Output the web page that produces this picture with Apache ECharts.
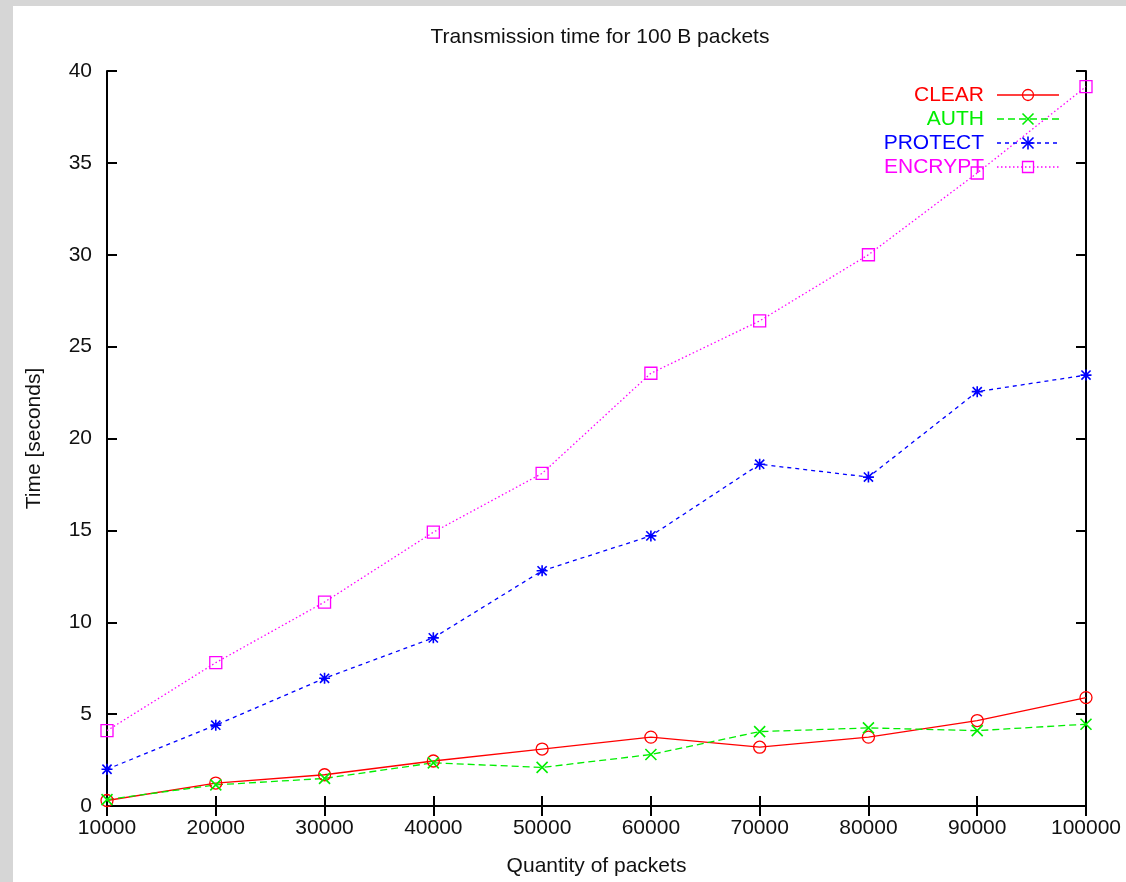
<!DOCTYPE html>
<html>
<head>
<meta charset="utf-8">
<script src="https://cdn.jsdelivr.net/npm/echarts@6/dist/echarts.min.js"></script>
<style>
html,body{margin:0;padding:0;width:1126px;height:882px;overflow:hidden;background:#d6d6d6;}
#paper{position:absolute;left:13px;top:6px;right:0;bottom:0;background:#ffffff;}
#chart{position:absolute;left:0;top:0;width:1126px;height:882px;}
</style>
</head>
<body>
<div id="paper"></div>
<div id="chart"></div>
<script>
// ---- data ----
const quantities = [10000, 20000, 30000, 40000, 50000, 60000, 70000, 80000, 90000, 100000];
const clearTimes   = [0.3, 1.25, 1.7, 2.45, 3.1, 3.75, 3.2, 3.75, 4.65, 5.9];
const authTimes    = [0.35, 1.15, 1.5, 2.35, 2.1, 2.8, 4.05, 4.25, 4.1, 4.45];
const protectTimes = [2.0, 4.4, 6.95, 9.15, 12.8, 14.7, 18.6, 17.9, 22.55, 23.45];
const encryptTimes = [4.1, 7.8, 11.1, 14.9, 18.1, 23.55, 26.4, 30.0, 34.45, 39.15];
const seriesNames = ['CLEAR', 'AUTH', 'PROTECT', 'ENCRYPT'];
const titleText = 'Transmission time for 100 B packets';
const xAxisName = 'Quantity of packets';
const yAxisName = 'Time [seconds]';

const FONT = '"Liberation Sans", Arial, Helvetica, sans-serif';
const colors = ['#ff0000', '#00ee00', '#0000ff', '#ff00ff'];
const pairs = arr => quantities.map((q, i) => [q, arr[i]]);

const X_PATH = 'path://M0,0L10,10M10,0L0,10';
const STAR_PATH = 'path://M0,0L10,10M10,0L0,10M5,-1L5,11M-1,5L11,5';

const chart = echarts.init(document.getElementById('chart'), null, {renderer: 'canvas'});

const axisCommon = {
  axisLine: {show: true, lineStyle: {color: '#000', width: 2}},
  axisTick: {show: true, inside: true, length: 10, lineStyle: {color: '#000', width: 2}},
  splitLine: {show: false}
};

const option = {
  backgroundColor: 'transparent',
  animation: false,
  title: {
    text: titleText, left: 595, top: 22, textAlign: 'center',
    textStyle: {fontFamily: FONT, fontSize: 21, fontWeight: 'normal', color: '#111'}
  },
  grid: {left: 107, right: 40, top: 71, bottom: 74},
  xAxis: [
    Object.assign({
      type: 'value', position: 'bottom', min: 10000, max: 100000, interval: 10000,
      name: xAxisName, nameLocation: 'middle', nameGap: 50,
      nameTextStyle: {fontFamily: FONT, fontSize: 21, color: '#111'},
      axisLabel: {fontFamily: FONT, fontSize: 21, color: '#111', margin: 12,
        formatter: v => String(v)}
    }, axisCommon),
    Object.assign({
      type: 'value', position: 'top', min: 10000, max: 100000, interval: 10000,
      axisLabel: {show: false}
    }, axisCommon)
  ],
  yAxis: [
    Object.assign({
      type: 'value', position: 'left', min: 0, max: 40, interval: 5,
      name: yAxisName, nameLocation: 'middle', nameGap: 62, nameRotate: 90,
      nameTextStyle: {fontFamily: FONT, fontSize: 21, color: '#111'},
      axisLabel: {fontFamily: FONT, fontSize: 21, color: '#111', margin: 15}
    }, axisCommon),
    Object.assign({
      type: 'value', position: 'right', min: 0, max: 40, interval: 5,
      axisLabel: {show: false}
    }, axisCommon)
  ],
  series: [
    {
      name: seriesNames[0], type: 'line', data: pairs(clearTimes),
      symbol: 'circle', symbolSize: 12,
      lineStyle: {color: colors[0], width: 1.3, type: 'solid'},
      itemStyle: {color: 'rgba(255,255,255,0)', borderColor: colors[0], borderWidth: 1.3}
    },
    {
      name: seriesNames[1], type: 'line', data: pairs(authTimes),
      symbol: X_PATH, symbolSize: 11,
      lineStyle: {color: colors[1], width: 1.3, type: [7, 4]},
      itemStyle: {color: 'rgba(255,255,255,0)', borderColor: colors[1], borderWidth: 1.6}
    },
    {
      name: seriesNames[2], type: 'line', data: pairs(protectTimes),
      symbol: STAR_PATH, symbolSize: 11,
      lineStyle: {color: colors[2], width: 1.3, type: [4, 4]},
      itemStyle: {color: 'rgba(255,255,255,0)', borderColor: colors[2], borderWidth: 1.6}
    },
    {
      name: seriesNames[3], type: 'line', data: pairs(encryptTimes),
      symbol: 'rect', symbolSize: 12,
      lineStyle: {color: colors[3], width: 1.3, type: [1.5, 2.5]},
      itemStyle: {color: 'rgba(255,255,255,0)', borderColor: colors[3], borderWidth: 1.3}
    }
  ],
  graphic: []
};

// legend drawn as graphic: text right-aligned, sample line + marker to the right
const legendRows = [95, 119, 143, 167];
const lineTypes = [null, [7, 4], [4, 4], [1.5, 2.5]];
const legendGraphics = [];
seriesNames.forEach((name, i) => {
  const y = legendRows[i];
  const c = colors[i];
  legendGraphics.push({
    type: 'text', x: 984, y: y, z: 100,
    style: {text: name, fill: c, font: '21px ' + FONT, textAlign: 'right', textVerticalAlign: 'middle'}
  });
  legendGraphics.push({
    type: 'line', z: 100,
    shape: {x1: 997, y1: y, x2: 1059, y2: y},
    style: {stroke: c, lineWidth: 1.3, lineDash: lineTypes[i]}
  });
  const mx = 1028, r = 5.5;
  if (i === 0) {
    legendGraphics.push({type: 'circle', z: 101, shape: {cx: mx, cy: y, r: r},
      style: {fill: 'rgba(255,255,255,0)', stroke: c, lineWidth: 1.3}});
  } else if (i === 3) {
    legendGraphics.push({type: 'rect', z: 101, shape: {x: mx - r, y: y - r, width: 2 * r, height: 2 * r},
      style: {fill: 'rgba(255,255,255,0)', stroke: c, lineWidth: 1.3}});
  } else {
    legendGraphics.push({type: 'line', z: 101, shape: {x1: mx - r, y1: y - r, x2: mx + r, y2: y + r}, style: {stroke: c, lineWidth: 1.6}});
    legendGraphics.push({type: 'line', z: 101, shape: {x1: mx + r, y1: y - r, x2: mx - r, y2: y + r}, style: {stroke: c, lineWidth: 1.6}});
    if (i === 2) {
      legendGraphics.push({type: 'line', z: 101, shape: {x1: mx, y1: y - r - 1, x2: mx, y2: y + r + 1}, style: {stroke: c, lineWidth: 1.6}});
      legendGraphics.push({type: 'line', z: 101, shape: {x1: mx - r - 1, y1: y, x2: mx + r + 1, y2: y}, style: {stroke: c, lineWidth: 1.6}});
    }
  }
});
option.graphic = legendGraphics;

chart.setOption(option);
</script>
</body>
</html>
